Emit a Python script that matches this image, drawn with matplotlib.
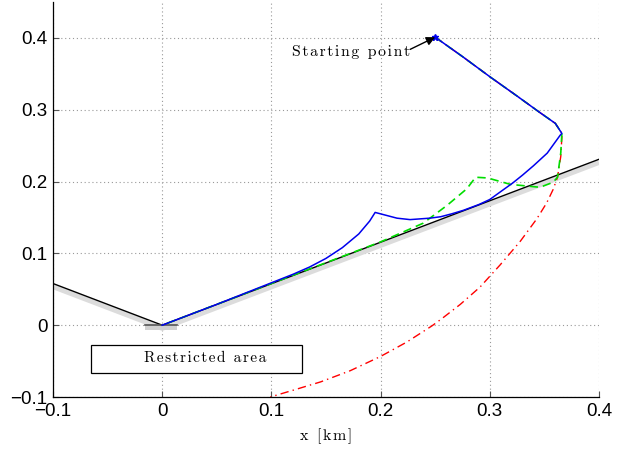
import matplotlib
matplotlib.use("Agg")
import matplotlib.pyplot as plt
from matplotlib.patches import Rectangle
import numpy as np

# --- data ---
# boundary (black) line of restricted area
bound_x = [-0.1, 0.0, 0.4]
bound_y = [0.058, 0.0, 0.231]

# common first leg (start -> turning corner)
leg_x = [0.25, 0.275, 0.300, 0.325, 0.345, 0.360, 0.366]
leg_y = [0.401, 0.374, 0.346, 0.319, 0.297, 0.281, 0.267]

# blue trajectory after the corner
blue_x = [0.3645, 0.3526, 0.340, 0.330, 0.321, 0.310, 0.300, 0.290, 0.276,
          0.265, 0.255, 0.245, 0.227, 0.215, 0.200, 0.195,
          0.190, 0.180, 0.165, 0.150, 0.135, 0.120, 0.100, 0.050, 0.0]
blue_y = [0.2646, 0.2396, 0.222, 0.209, 0.198, 0.186, 0.175, 0.168, 0.160,
          0.155, 0.151, 0.149, 0.147, 0.149, 0.155, 0.157,
          0.145, 0.127, 0.108, 0.093, 0.081, 0.071, 0.059, 0.029, 0.0]

# green (dashed) trajectory after the corner
green_x = [0.365, 0.362, 0.358, 0.346, 0.319, 0.298, 0.287, 0.279, 0.261,
           0.239, 0.200, 0.100, 0.0]
green_y = [0.240, 0.206, 0.199, 0.192, 0.196, 0.205, 0.206, 0.190, 0.167,
           0.142, 0.116, 0.058, 0.0]

# red (dash-dot) trajectory after the corner
red_x = [0.366, 0.365, 0.362, 0.358, 0.352, 0.343, 0.328, 0.3095, 0.291,
         0.273, 0.256, 0.247, 0.224, 0.200, 0.172, 0.145, 0.120, 0.099]
red_y = [0.262, 0.235, 0.206, 0.189, 0.170, 0.148, 0.117, 0.084, 0.053,
         0.029, 0.009, -0.001, -0.0235, -0.0435, -0.0635, -0.079, -0.0905, -0.100]

xticks = [-0.1, 0.0, 0.1, 0.2, 0.3, 0.4]
yticks = [-0.1, 0.0, 0.1, 0.2, 0.3, 0.4]
xtick_labels = ["\u22120.1", "0", "0.1", "0.2", "0.3", "0.4"]
ytick_labels = ["\u22120.1", "0", "0.1", "0.2", "0.3", "0.4"]

fig = plt.figure(figsize=(6.37, 4.49), dpi=100)
ax = fig.add_axes([53 / 637, 1 - 397 / 449, 546 / 637, 395 / 449])

ax.set_xlim(-0.1, 0.4)
ax.set_ylim(-0.1, 0.45)

# grey band (restricted side) under the boundary
bx = np.array(bound_x)
by = np.array(bound_y)
ax.plot(bx, by - 0.0045, color="#dcdcdc", lw=3.5, solid_capstyle="butt", zorder=2)
ax.plot(bound_x, bound_y, color="black", lw=1.0, zorder=3)

# origin patch
ax.add_patch(Rectangle((-0.0156, -0.007), 0.0293, 0.007, facecolor="#d0d0d0",
                       edgecolor="none", zorder=2))
ax.plot([-0.0156, 0.0137], [0.0, 0.0], color="#555555", lw=1.2, zorder=3)

# trajectories
ax.plot(leg_x + red_x, leg_y + red_y, color="red", lw=1.0, ls=(0, (6, 3, 1, 3)), zorder=4)
ax.plot(leg_x + green_x, leg_y + green_y, color="#00dd00", lw=1.2, ls=(0, (5, 3)), zorder=5)
ax.plot(leg_x + blue_x, leg_y + blue_y, color="#0000ee", lw=1.1, zorder=6)
ax.plot([leg_x[0]], [leg_y[0]], marker="*", color="#0000ee", ms=5, zorder=7)

# annotations
serif = ["cmr10", "DejaVu Serif"]
ax.text(0.119, 0.380, "\u200a".join("Starting point"), fontsize=11.3, family=serif,
        va="center", ha="left", zorder=8)
ax.annotate("", xy=(0.25, 0.401), xytext=(0.227, 0.384),
            arrowprops=dict(arrowstyle="-|>", color="black", lw=1.0,
                            shrinkA=0, shrinkB=0, mutation_scale=13),
            zorder=8)

ax.add_patch(Rectangle((-0.065, -0.066), 0.193, 0.038, facecolor="white",
                       edgecolor="black", lw=0.9, zorder=8))
ax.text(0.039, -0.046, "\u200a".join("Restricted area"), fontsize=11, family=serif,
        ha="center", va="center", zorder=9)

ax.set_xlabel("\u200a".join("x [km]"), fontsize=11.5, family=serif, labelpad=6)

ax.set_xticks(xticks)
ax.set_xticklabels(xtick_labels)
ax.set_yticks(yticks)
ax.set_yticklabels(ytick_labels)
for lab in ax.get_xticklabels() + ax.get_yticklabels():
    lab.set_fontfamily("Liberation Sans")
    lab.set_fontsize(13.5)

ax.tick_params(direction="in", length=4, width=0.8, color="#555555", pad=4)
ax.spines["top"].set_visible(False)
ax.spines["right"].set_visible(False)
ax.spines["left"].set_linewidth(0.9)
ax.spines["bottom"].set_linewidth(0.9)

ax.grid(True, ls=(0, (1, 2.5)), color="#999999", lw=0.8)
ax.set_axisbelow(True)

fig.savefig("out.png", dpi=100)
